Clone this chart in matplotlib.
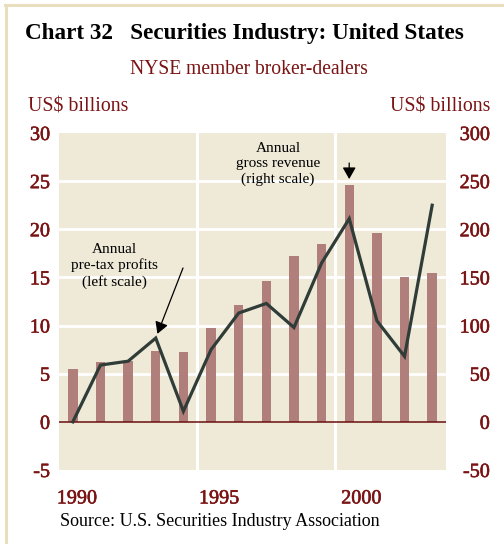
import matplotlib
matplotlib.use("Agg")
import matplotlib.pyplot as plt
from matplotlib.lines import Line2D
import matplotlib.transforms as mtransforms
import matplotlib.patheffects as pe

years = [1990, 1991, 1992, 1993, 1994, 1995, 1996, 1997, 1998, 1999, 2000, 2001, 2002, 2003]
revenue = [55, 62, 63, 74, 73, 97, 121, 146, 172, 185, 246, 196, 150, 155]   # right scale, US$ bn
profits = [0.0, 5.9, 6.3, 8.7, 1.1, 7.5, 11.3, 12.3, 9.8, 16.5, 21.1, 10.5, 6.8, 22.5]  # left scale
left_ticks = [-5, 0, 5, 10, 15, 20, 25, 30]
right_ticks = [-50, 0, 50, 100, 150, 200, 250, 300]
year_ticks = [1990, 1995, 2000]

DARKRED = "#7a1414"
BG = "#efe9d7"
BAR = "#b07e7b"
LINE = "#2f3c37"
FRAME = "#e9dfbf"
FONT = "Liberation Serif"

W, H = 504, 544
fig = plt.figure(figsize=(W / 100, H / 100), dpi=100)
fig.patch.set_facecolor("white")

# frame lines
fig.add_artist(Line2D([6 / W, 6 / W], [0, 1 - 5 / H], transform=fig.transFigure, color=FRAME, lw=2.2))
fig.add_artist(Line2D([5 / W, 1], [1 - 5 / H, 1 - 5 / H], transform=fig.transFigure, color=FRAME, lw=2.2))

pos = [59 / W, 74 / H, (446 - 59) / W, (470 - 133) / H]
ax2 = fig.add_axes(pos)             # right scale: bars + background
ax = fig.add_axes(pos, sharex=ax2)  # left scale: line

ax2.set_facecolor(BG)
ax.patch.set_visible(False)
ax.set_zorder(3)
ax2.set_zorder(2)

ax2.set_xlim(1989.5, 2003.5)
ax2.set_ylim(-50, 300)
ax.set_ylim(-5, 30)

# gridlines
for v in [50, 100, 150, 200, 250]:
    ax2.axhline(v, color="white", lw=2.0, zorder=0.5)
for xv in [1994.5, 1999.5]:
    ax2.axvline(xv, color="white", lw=2.2, zorder=0.5)

ax2.bar(years, revenue, width=0.34, color=BAR, zorder=1)
ax2.axhline(0, color="#6a0f0f", lw=1.1, zorder=1.5)

ax.plot(years, profits, color=LINE, lw=2.3, solid_joinstyle="miter", zorder=4)

for a in (ax, ax2):
    for s in a.spines.values():
        s.set_visible(False)

TS = 14.5
# left ticks
ax.yaxis.tick_left()
ax.set_yticks(left_ticks)
ax.set_yticklabels([str(t) for t in left_ticks])
ax.tick_params(axis="y", length=0, pad=6.5, labelsize=TS, labelcolor=DARKRED)
# right ticks
ax2.yaxis.tick_right()
ax2.set_yticks(right_ticks)
ax2.set_yticklabels([str(t) for t in right_ticks])
ax2.tick_params(axis="y", length=0, pad=31.5, labelsize=TS, labelcolor=DARKRED)
for lab in ax2.get_yticklabels():
    lab.set_horizontalalignment("right")
# x ticks
ax.set_xticks(year_ticks)
ax.set_xticklabels([str(y) for y in year_ticks])
ax.tick_params(axis="x", length=0, pad=14, labelsize=TS, labelcolor=DARKRED)
ax2.tick_params(axis="x", labelbottom=False, length=0)
for lab, dx in zip(ax.get_xticklabels(), [4, 8, 12]):
    lab.set_transform(lab.get_transform() + mtransforms.ScaledTranslation(dx / 100, 0, fig.dpi_scale_trans))

heavy = [pe.withStroke(linewidth=0.4, foreground=DARKRED)]
for lab in ax.get_yticklabels() + ax2.get_yticklabels() + ax.get_xticklabels():
    lab.set_fontfamily(FONT)
    lab.set_path_effects(heavy)

# titles
fig.text(25 / W, 1 - 34 / H, "Chart 32   Securities Industry: United States", fontsize=16.7,
         fontweight="bold", family=FONT, ha="left", va="center", color="black")
fig.text(249 / W, 1 - 70 / H, "NYSE member broker-dealers", fontsize=14.1, family=FONT,
         ha="center", va="center", color=DARKRED)
fig.text(28 / W, 1 - 107 / H, "US$ billions", fontsize=14.3, family=FONT, ha="left", va="center", color=DARKRED)
fig.text(490 / W, 1 - 107 / H, "US$ billions", fontsize=14.3, family=FONT, ha="right", va="center", color=DARKRED)
fig.text(60 / W, 1 - 521 / H, "Source: U.S. Securities Industry Association", fontsize=13, family=FONT,
         ha="left", va="center", color="black")

# annotations
fig.text(114 / W, 1 - 266 / H, "Annual\npre-tax profits\n(left scale)", fontsize=11, family=FONT,
         ha="center", va="center", color="black", linespacing=1.2)
fig.text(278 / W, 1 - 164 / H, "Annual\ngross revenue\n(right scale)", fontsize=11, family=FONT,
         ha="center", va="center", color="black", linespacing=1.2)

AP = dict(arrowstyle="-|>,head_length=0.7,head_width=0.4", color="black", lw=0.9,
          shrinkA=0, mutation_scale=10)
fig.add_artist(Line2D([167 / W, 183 / W], [1 - 268 / H, 1 - 268 / H], transform=fig.transFigure,
                      color="black", lw=0.9))
ax.annotate("", xy=(years[3], profits[3]), xycoords="data",
            xytext=(183, H - 268), textcoords="figure pixels",
            arrowprops=dict(AP, shrinkB=3.3))
fig.add_artist(Line2D([334 / W, 349.2 / W], [1 - 163 / H, 1 - 163 / H], transform=fig.transFigure,
                      color="black", lw=0.9))
ax2.annotate("", xy=(years[10], revenue[10]), xycoords="data",
             xytext=(349.2, H - 163), textcoords="figure pixels",
             arrowprops=dict(AP, shrinkB=4.3))

fig.savefig("out.png", dpi=100, facecolor=fig.get_facecolor())
